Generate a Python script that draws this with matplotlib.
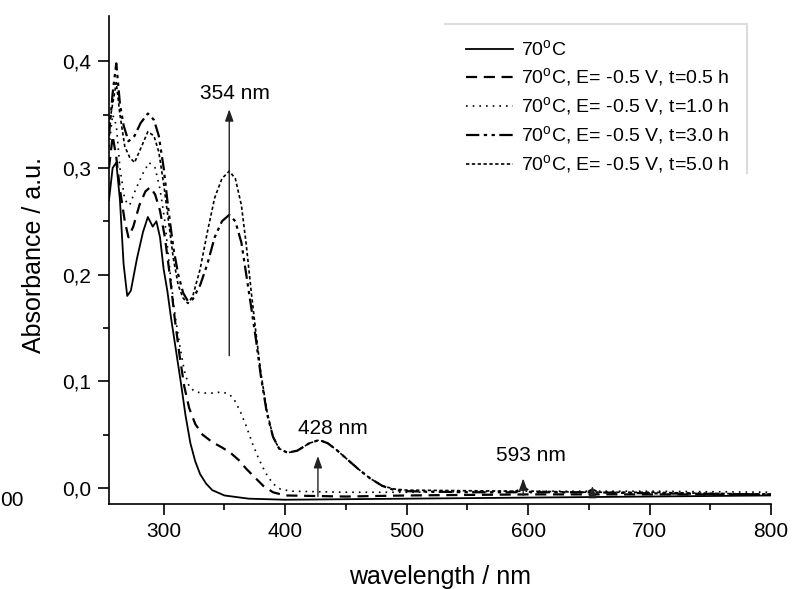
import matplotlib
matplotlib.use("Agg")
import matplotlib.pyplot as plt
from matplotlib.lines import Line2D
from matplotlib.ticker import MultipleLocator, FuncFormatter

plt.rcParams['font.family'] = ['Liberation Sans', 'DejaVu Sans']
plt.rcParams['mathtext.fontset'] = 'custom'
plt.rcParams['mathtext.rm'] = 'Liberation Sans'

# spectra (wavelength nm, absorbance a.u.)
wl_0 = [255, 258, 261, 264, 267, 270, 273, 278, 283, 287, 291, 294, 297, 300, 303, 306, 310,
        314, 318, 322, 326, 330, 335, 340, 350, 370, 400, 500, 600, 700, 800]
abs_0 = [0.27, 0.30, 0.305, 0.27, 0.21, 0.18, 0.185, 0.215, 0.24, 0.254, 0.245, 0.25, 0.235,
         0.205, 0.185, 0.16, 0.13, 0.10, 0.068, 0.042, 0.025, 0.013, 0.004, -0.002, -0.007,
         -0.010, -0.011, -0.010, -0.009, -0.008, -0.007]

wl_05 = [255, 258, 261, 264, 268, 271, 275, 280, 285, 289, 293, 297, 301, 305, 309, 313, 317,
         321, 326, 332, 340, 348, 355, 362, 368, 375, 382, 390, 400, 450, 500, 600, 700, 800]
abs_05 = [0.30, 0.33, 0.31, 0.28, 0.25, 0.235, 0.245, 0.265, 0.278, 0.282, 0.275, 0.26, 0.235,
          0.20, 0.16, 0.125, 0.095, 0.075, 0.06, 0.05, 0.043, 0.038, 0.033, 0.026, 0.018, 0.010,
          0.002, -0.004, -0.007, -0.008, -0.007, -0.006, -0.006, -0.006]

wl_1 = [255, 258, 261, 264, 268, 272, 277, 283, 288, 293, 297, 301, 305, 309, 313, 317, 321,
        326, 333, 340, 348, 354, 358, 363, 368, 373, 378, 384, 390, 396, 405, 450, 500, 600,
        700, 800]
abs_1 = [0.32, 0.35, 0.34, 0.30, 0.27, 0.265, 0.28, 0.295, 0.305, 0.30, 0.28, 0.25, 0.205,
         0.165, 0.135, 0.11, 0.095, 0.09, 0.089, 0.089, 0.09, 0.088, 0.083, 0.072, 0.058, 0.042,
         0.028, 0.014, 0.004, -0.001, -0.003, -0.004, -0.004, -0.003, -0.003, -0.004]

wl_3 = [255, 258, 261, 264, 267, 271, 276, 281, 287, 292, 296, 300, 304, 308, 312, 316, 320,
        324, 330, 336, 342, 348, 354, 359, 364, 368, 372, 376, 380, 385, 390, 395, 402, 410,
        420, 428, 435, 442, 450, 460, 470, 480, 490, 500, 550, 590, 596, 602, 650, 700, 800]
abs_3 = [0.33, 0.37, 0.398, 0.36, 0.34, 0.325, 0.33, 0.342, 0.351, 0.345, 0.33, 0.30, 0.26,
         0.225, 0.20, 0.183, 0.175, 0.177, 0.19, 0.21, 0.235, 0.25, 0.256, 0.25, 0.23, 0.20,
         0.17, 0.139, 0.105, 0.07, 0.048, 0.037, 0.033, 0.035, 0.042, 0.045, 0.042, 0.036,
         0.028, 0.018, 0.009, 0.002, -0.002, -0.003, -0.004, -0.004, 0.0, -0.004, -0.004,
         -0.005, -0.006]

wl_5 = [255, 258, 261, 264, 268, 272, 276, 281, 287, 292, 296, 300, 304, 308, 312, 316, 320,
        324, 330, 336, 342, 348, 354, 359, 364, 368, 372, 376, 380, 385, 390, 395, 402, 410,
        420, 428, 435, 442, 450, 460, 470, 480, 490, 500, 590, 596, 602, 648, 653, 658, 700, 800]
abs_5 = [0.34, 0.36, 0.38, 0.35, 0.32, 0.31, 0.305, 0.318, 0.334, 0.33, 0.315, 0.285, 0.25,
         0.215, 0.19, 0.178, 0.173, 0.18, 0.205, 0.24, 0.272, 0.29, 0.297, 0.29, 0.265, 0.228,
         0.185, 0.145, 0.108, 0.072, 0.048, 0.037, 0.033, 0.035, 0.042, 0.045, 0.042, 0.036,
         0.028, 0.018, 0.009, 0.002, -0.001, -0.002, -0.003, 0.001, -0.003, -0.004, -0.001,
         -0.004, -0.004, -0.006]

labels = ['70$^\\mathrm{o}$C',
          '70$^\\mathrm{o}$C, E= -0.5 V, t=0.5 h',
          '70$^\\mathrm{o}$C, E= -0.5 V, t=1.0 h',
          '70$^\\mathrm{o}$C, E= -0.5 V, t=3.0 h',
          '70$^\\mathrm{o}$C, E= -0.5 V, t=5.0 h']

# arrows: wavelength, start, end, label, label x, label y
arrows = [(354, 0.124, 0.355, '354 nm', 358.5, 0.370),
          (427, -0.008, 0.030, '428 nm', 439, 0.056),
          (596, -0.007, 0.009, '593 nm', 602, 0.030),
          (653, -0.007, 0.002, None, None, None)]

fig = plt.figure(figsize=(7.94, 5.89), dpi=100)
ax = fig.add_axes([109/794, 1-504/589, 662/794, 488/589])

ax.plot(wl_0, abs_0, color='black', lw=1.3, ls='-', label=labels[0])
ax.plot(wl_05, abs_05, color='black', lw=1.6, ls=(0, (5, 3)), label=labels[1])
ax.plot(wl_1, abs_1, color='black', lw=1.2, ls=(0, (1, 3)), label=labels[2])
ax.plot(wl_3, abs_3, color='black', lw=1.6, ls=(0, (6, 2, 1.5, 2, 1.5, 2)), label=labels[3])
ax.plot(wl_5, abs_5, color='black', lw=1.2, ls=(0, (2, 1.5)), label=labels[4])

for x, y0, y1, txt, tx, ty in arrows:
    ax.annotate('', xy=(x, y1), xytext=(x, y0),
                arrowprops=dict(arrowstyle='-|>,head_length=0.7,head_width=0.25',
                                color='#222222', lw=1.0, shrinkA=0, shrinkB=0))
    if txt:
        ax.text(tx, ty, txt, fontsize=15, ha='center', va='center')

ax.set_xlim(255, 800)
ax.set_ylim(-0.015, 0.4424)
ax.xaxis.set_major_locator(MultipleLocator(100))
ax.xaxis.set_minor_locator(MultipleLocator(50))
ax.yaxis.set_major_locator(MultipleLocator(0.1))
ax.yaxis.set_minor_locator(MultipleLocator(0.05))
ax.yaxis.set_major_formatter(FuncFormatter(lambda v, p: ('%.1f' % v).replace('.', ',')))
ax.spines['top'].set_visible(False)
ax.spines['right'].set_visible(False)
for s in ['left', 'bottom']:
    ax.spines[s].set_linewidth(1.2)
ax.tick_params(which='major', direction='out', length=8, width=1.2, labelsize=15, pad=5)
ax.tick_params(which='minor', direction='out', length=4, width=1.2)

ax.set_xlabel('wavelength / nm', fontsize=18)
ax.xaxis.set_label_coords(0.5, -0.125)
ax.set_ylabel('Absorbance / a.u.', fontsize=18)
ax.yaxis.set_label_coords(-0.095, 0.51)

leg = ax.legend(loc='upper left', bbox_to_anchor=(466/794, 1-39/589),
                bbox_transform=fig.transFigure, borderaxespad=0, borderpad=0,
                fontsize=14, handlelength=2.4, handletextpad=0.45, labelspacing=0.33,
                frameon=False)

# legend frame: only the top and right edges show, light grey
fig.add_artist(Line2D([445/794, 747/794], [1-24/589, 1-24/589], color='#dcdcdc', lw=1.5,
                      transform=fig.transFigure))
fig.add_artist(Line2D([747/794, 747/794], [1-24/589, 1-173/589], color='#dcdcdc', lw=1.5,
                      transform=fig.transFigure))

fig.text(0.0, 1-500/589, '00', fontsize=15, ha='left', va='center')

fig.savefig('out.png', dpi=100)
